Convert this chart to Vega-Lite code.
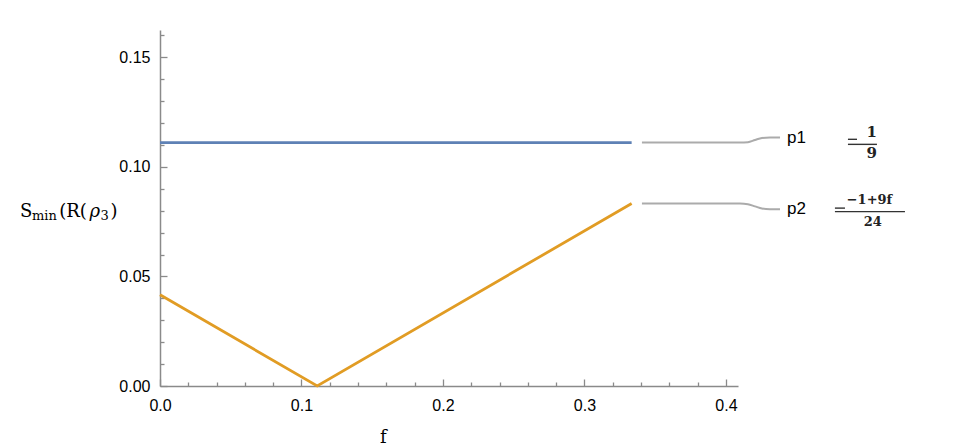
{
  "$schema": "https://vega.github.io/schema/vega-lite/v6.json",
  "width": 578,
  "height": 356,
  "autosize": {"type": "none"},
  "padding": {"left": 160, "top": 30, "right": 220, "bottom": 62},
  "background": "white",
  "config": {
    "view": {"stroke": null},
    "axis": {"grid": false, "domainColor": "#8a8a8a", "tickColor": "#8a8a8a", "labelFont": "Liberation Sans", "labelFontSize": 16, "labelColor": "#000000", "domainWidth": 1.5, "tickWidth": 1.3, "labelFlush": false}
  },
  "resolve": {"axis": {"x": "independent", "y": "independent"}},
  "layer": [
    {
      "data": {"values": [
        {"series": "p1", "f": 0, "s": 0.11111},
        {"series": "p1", "f": 0.33333, "s": 0.11111},
        {"series": "p2", "f": 0, "s": 0.041667},
        {"series": "p2", "f": 0.11111, "s": 0},
        {"series": "p2", "f": 0.33333, "s": 0.083333}
      ]},
      "mark": {"type": "line", "strokeWidth": 2.8},
      "encoding": {
        "x": {"field": "f", "type": "quantitative", "scale": {"domain": [0, 0.4085], "nice": false, "zero": false},
              "axis": {"orient": "bottom", "values": [0, 0.1, 0.2, 0.3, 0.4], "format": ".1f", "tickSize": -7, "labelPadding": 18, "title": null}},
        "y": {"field": "s", "type": "quantitative", "scale": {"domain": [0, 0.1625], "nice": false},
              "axis": {"orient": "left", "values": [0, 0.05, 0.1, 0.15], "format": ".2f", "tickSize": -7, "labelPadding": 17, "title": null}},
        "color": {"field": "series", "type": "nominal", "scale": {"domain": ["p1", "p2"], "range": ["#5e81b5", "#e19c24"]}, "legend": null}
      }
    },
    {
      "data": {"values": [
        {"series": "p1", "x": 0.3406, "y": 0.1111},
        {"series": "p1", "x": 0.4099, "y": 0.1111},
        {"series": "p1", "x": 0.4155, "y": 0.1113},
        {"series": "p1", "x": 0.4205, "y": 0.1123},
        {"series": "p1", "x": 0.4254, "y": 0.1132},
        {"series": "p1", "x": 0.4311, "y": 0.1134},
        {"series": "p1", "x": 0.4382, "y": 0.1134},
        {"series": "p2", "x": 0.3406, "y": 0.0833},
        {"series": "p2", "x": 0.4099, "y": 0.0833},
        {"series": "p2", "x": 0.4155, "y": 0.0830},
        {"series": "p2", "x": 0.4205, "y": 0.0820},
        {"series": "p2", "x": 0.4254, "y": 0.0810},
        {"series": "p2", "x": 0.4311, "y": 0.0807},
        {"series": "p2", "x": 0.4382, "y": 0.0807}
      ]},
      "mark": {"type": "line", "strokeWidth": 2, "color": "#ababab", "interpolate": "monotone"},
      "encoding": {
        "x": {"field": "x", "type": "quantitative",
              "axis": {"orient": "bottom", "values": [0.02, 0.04, 0.06, 0.08, 0.12, 0.14, 0.16, 0.18, 0.22, 0.24, 0.26, 0.28, 0.32, 0.34, 0.36, 0.38], "labels": false, "domain": false, "tickSize": -4, "title": null}},
        "y": {"field": "y", "type": "quantitative",
              "axis": {"orient": "left", "values": [0.01, 0.02, 0.03, 0.04, 0.06, 0.07, 0.08, 0.09, 0.11, 0.12, 0.13, 0.14, 0.16], "labels": false, "domain": false, "tickSize": -4, "title": null}},
        "detail": {"field": "series", "type": "nominal"}
      }
    },
    {
      "data": {"values": [
        {"label": "p1", "x": 0.4431, "y": 0.1131},
        {"label": "p2", "x": 0.4431, "y": 0.0807}
      ]},
      "mark": {"type": "text", "font": "Liberation Sans", "fontSize": 17, "align": "left", "baseline": "middle", "color": "#000000"},
      "encoding": {
        "x": {"field": "x", "type": "quantitative", "axis": null},
        "y": {"field": "y", "type": "quantitative", "axis": null},
        "text": {"field": "label"}
      }
    },
    {
      "data": {"values": [
        {"label": "1", "x": 0.5030, "y": 0.1158},
        {"label": "9", "x": 0.5030, "y": 0.1062}
      ]},
      "mark": {"type": "text", "font": "DejaVu Serif", "fontWeight": "bold", "fontSize": 15, "align": "center", "baseline": "middle", "color": "#222222"},
      "encoding": {
        "x": {"field": "x", "type": "quantitative", "axis": null},
        "y": {"field": "y", "type": "quantitative", "axis": null},
        "text": {"field": "label"}
      }
    },
    {
      "data": {"values": [
        {"label": "−1+9f", "x": 0.5014, "y": 0.0848},
        {"label": "24", "x": 0.5038, "y": 0.0748}
      ]},
      "mark": {"type": "text", "font": "DejaVu Serif", "fontWeight": "bold", "fontSize": 13, "align": "center", "baseline": "middle", "color": "#222222"},
      "encoding": {
        "x": {"field": "x", "type": "quantitative", "axis": null},
        "y": {"field": "y", "type": "quantitative", "axis": null},
        "text": {"field": "label"}
      }
    },
    {
      "data": {"values": [
        {"x": 0.4862, "x2": 0.4926, "y": 0.1126},
        {"x": 0.4862, "x2": 0.5067, "y": 0.1103},
        {"x": 0.4770, "x2": 0.4841, "y": 0.0812},
        {"x": 0.4770, "x2": 0.5265, "y": 0.0796}
      ]},
      "mark": {"type": "rule", "strokeWidth": 1.4, "color": "#333333"},
      "encoding": {
        "x": {"field": "x", "type": "quantitative", "axis": null},
        "x2": {"field": "x2"},
        "y": {"field": "y", "type": "quantitative", "axis": null}
      }
    },
    {
      "data": {"values": [
        {"label": "S", "x": -0.0989, "y": 0.0771},
        {"label": "(R(", "x": -0.0712, "y": 0.0771},
        {"label": ")", "x": -0.0350, "y": 0.0771},
        {"label": "f", "x": 0.1555, "y": -0.026}
      ]},
      "mark": {"type": "text", "font": "DejaVu Serif", "fontSize": 18, "align": "left", "baseline": "alphabetic", "color": "#000000"},
      "encoding": {
        "x": {"field": "x", "type": "quantitative", "axis": null},
        "y": {"field": "y", "type": "quantitative", "axis": null},
        "text": {"field": "label"}
      }
    },
    {
      "data": {"values": [
        {"label": "ρ", "x": -0.0498, "y": 0.0771}
      ]},
      "mark": {"type": "text", "font": "DejaVu Serif", "fontSize": 18, "fontStyle": "italic", "align": "left", "baseline": "alphabetic", "color": "#000000"},
      "encoding": {
        "x": {"field": "x", "type": "quantitative", "axis": null},
        "y": {"field": "y", "type": "quantitative", "axis": null},
        "text": {"field": "label"}
      }
    },
    {
      "data": {"values": [
        {"label": "min", "x": -0.0905, "y": 0.0757},
        {"label": "3", "x": -0.0420, "y": 0.0757}
      ]},
      "mark": {"type": "text", "font": "DejaVu Serif", "fontSize": 13, "align": "left", "baseline": "alphabetic", "color": "#000000"},
      "encoding": {
        "x": {"field": "x", "type": "quantitative", "axis": null},
        "y": {"field": "y", "type": "quantitative", "axis": null},
        "text": {"field": "label"}
      }
    }
  ]
}
